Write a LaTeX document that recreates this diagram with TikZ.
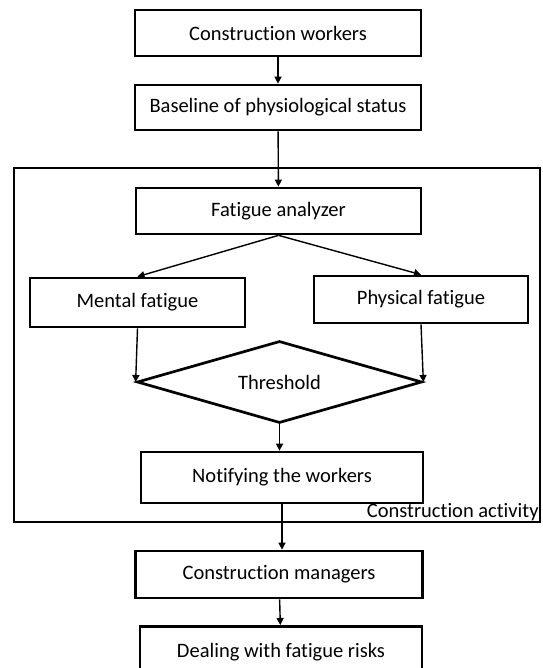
\documentclass[tikz,border=0pt]{standalone}
\usepackage{fontspec}
\setmainfont{Carlito}[RawFeature=-liga]
\usetikzlibrary{arrows.meta,shapes.geometric}

\begin{document}
\begin{tikzpicture}[x=1pt, y=-1pt, >={Triangle[length=7pt,width=7pt]},
  stagebox/.style={draw, line width=2.7pt, inner sep=0pt, font=\fontsize{20.5}{24}\selectfont},
  flow/.style={->, line width=1.4pt}]
  \useasboundingbox (0,0) rectangle (542,668);
  \clip (0,0) rectangle (542,668);
  % activity frame
  \node[draw, line width=1.6pt, minimum width=526pt, minimum height=354pt] (activity) at (277,345) {};
  \node[anchor=south east, inner sep=2pt, font=\fontsize{20.5}{24}\selectfont] (actlabel) at (activity.south east) {Construction activity};
  % boxes
  \node[stagebox, minimum width=286pt, minimum height=46pt] (workers) at (278,33) {Construction workers};
  \node[stagebox, minimum width=286pt, minimum height=45pt] (baseline) at (278,107.5) {Baseline of physiological status};
  \node[stagebox, minimum width=285pt, minimum height=46pt] (analyzer) at (278.5,211) {Fatigue analyzer};
  \node[stagebox, minimum width=215pt, minimum height=49pt] (mental) at (137.5,302.5) {Mental fatigue};
  \node[stagebox, minimum width=214pt, minimum height=47pt] (physical) at (421,299.5) {Physical fatigue};
  \node[draw, diamond, aspect=3.47, line width=2.7pt, inner sep=0pt, minimum width=285pt, minimum height=82pt,
    font=\fontsize{20.5}{24}\selectfont] (thr) at (279.5,382) {Threshold};
  \node[stagebox, minimum width=282pt, minimum height=51pt] (notify) at (282,477.5) {Notifying the workers};
  \node[stagebox, minimum width=287pt, minimum height=47pt] (managers) at (279,574.5) {Construction managers};
  \node[stagebox, minimum width=282pt, minimum height=52pt, anchor=north] (risks) at (281,625) {Dealing with fatigue risks};
  % connectors
  \draw[flow] (workers) -- (baseline);
  \draw[flow] (baseline) -- (analyzer);
  \draw[flow] (analyzer.south) -- (mental.north);
  \draw[flow] (analyzer.south) -- (physical.north);
  \draw[flow] (mental.south) -- (thr.west);
  \draw[flow] (physical.south) -- (thr.east);
  \draw[flow] (thr.south) -- (notify.north -| thr.south);
  \draw[flow] (notify.south) -- (managers.north -| notify.south);
  \draw[flow] (managers) -- (risks);
\end{tikzpicture}
\end{document}
